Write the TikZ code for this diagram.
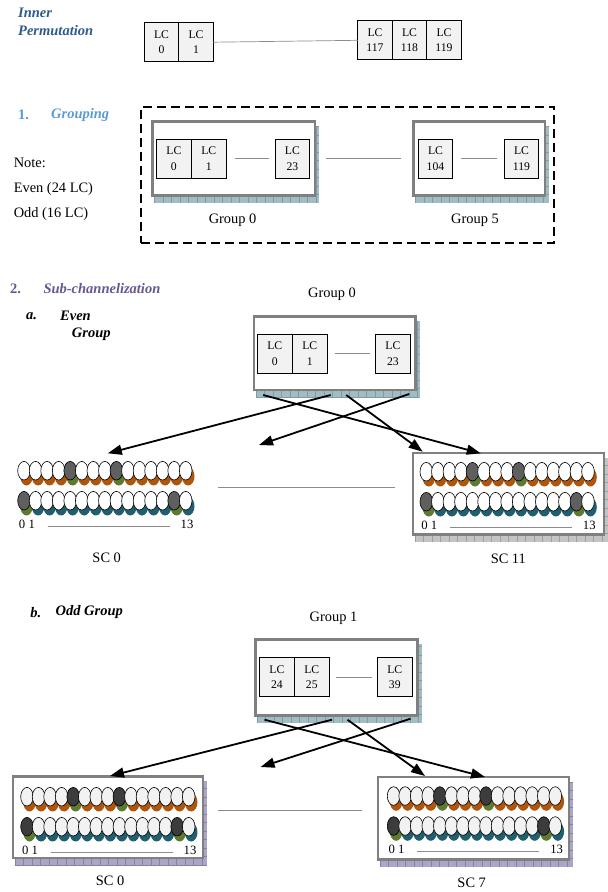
\documentclass[tikz,border=0pt]{standalone}
\usepackage{fontspec}
\setmainfont{Liberation Serif}
\usetikzlibrary{arrows.meta,calc,backgrounds}

\definecolor{headblue}{HTML}{2F5A8C}
\definecolor{lightblue}{HTML}{5B9BD5}
\definecolor{purplehead}{HTML}{66578F}
\definecolor{boxgray}{HTML}{808080}
\definecolor{lcfill}{HTML}{F2F2F2}
\definecolor{linegray}{HTML}{8C8C8C}
\definecolor{tealsh}{HTML}{A2BCC4}
\definecolor{teallines}{HTML}{7E9CA6}
\definecolor{graysh}{HTML}{C4C4C4}
\definecolor{graylines}{HTML}{9E9E9E}
\definecolor{lavsh}{HTML}{ABA5C6}
\definecolor{lavlines}{HTML}{8880A8}
\definecolor{rustsh}{HTML}{B0560C}
\definecolor{cyansh}{HTML}{215E6E}
\definecolor{olivesh}{HTML}{5E7A31}
\definecolor{darkA}{HTML}{5F5F5F}
\definecolor{darkB}{HTML}{3C3C3C}
\definecolor{lightB}{HTML}{F2F2F2}

% two rows of 15 sub-carrier ellipses with their coloured shadows and index labels
% #1 x of first centre, #2 y of first row, #3 dark fill, #4 light fill, #5 name prefix
\newcommand{\scrows}[5]{%
  \foreach \k in {0,...,14}{%
    \pgfmathsetmacro{\cx}{#1+11.55*\k}%
    \ifnum\k=4 \def\shc{olivesh}\else\ifnum\k=8 \def\shc{olivesh}\else\def\shc{rustsh}\fi\fi
    \fill[\shc] (\cx+2.5,#2+5.5) ellipse [x radius=6.3pt, y radius=9.3pt];
    \ifnum\k=0 \def\shc{olivesh}\else\ifnum\k=13 \def\shc{olivesh}\else\def\shc{cyansh}\fi\fi
    \fill[\shc] (\cx+2.5,#2+35.5) ellipse [x radius=6.3pt, y radius=9.3pt];
  }%
  \foreach \k in {0,...,14}{%
    \pgfmathsetmacro{\cx}{#1+11.55*\k}%
    \ifnum\k=4 \def\fc{#3}\else\ifnum\k=8 \def\fc{#3}\else\def\fc{#4}\fi\fi
    \filldraw[fill=\fc, draw=black, line width=0.6pt] (\cx,#2) ellipse [x radius=6.3pt, y radius=9.3pt];
  }%
  \foreach \k in {0,...,14}{%
    \pgfmathsetmacro{\cx}{#1+11.55*\k}%
    \ifnum\k=0 \def\fc{#3}\else\ifnum\k=13 \def\fc{#3}\else\def\fc{#4}\fi\fi
    \filldraw[fill=\fc, draw=black, line width=0.6pt] (\cx,#2+30) ellipse [x radius=6.3pt, y radius=9.3pt];
  }%
  \node[sclbl, anchor=west] (#5lo) at (#1-5.2,#2+53.5) {0 1};
  \node[sclbl] (#5hi) at (#1+163,#2+53.5) {13};
  \draw[gapline, shorten <=12.8pt, shorten >=10.6pt] ([yshift=-2pt]#5lo.east) -- ([yshift=-2pt]#5hi.west);
}

% offset hatched shadow behind a box node
\newcommand{\dropshadow}[2]{%
  \begin{scope}[on background layer]
    \path[#2] ($(#1.north west)+(3,6)$) rectangle ($(#1.south east)+(3,6)$);
  \end{scope}}

\tikzset{
  lc/.style={draw=black, line width=0.8pt, fill=lcfill, minimum width=34.5pt,
    minimum height=39pt, inner sep=0pt, outer sep=0pt, align=center,
    font=\fontsize{11.7}{15.5}\selectfont},
  grp/.style={draw=boxgray, line width=2.5pt, fill=white, inner sep=0pt},
  lbl/.style={font=\fontsize{14.4}{17}\selectfont, inner sep=0pt},
  sclbl/.style={font=\fontsize{12.7}{15}\selectfont, inner sep=0pt},
  head/.style={font=\fontsize{14.5}{17.4}\selectfont\bfseries\itshape, inner sep=0pt, anchor=west},
  numhead/.style={font=\fontsize{14.5}{17.4}\selectfont\bfseries, inner sep=0pt, anchor=west},
  gapline/.style={draw=linegray, line width=0.7pt},
  flow/.style={line width=1.8pt, -{Triangle[length=14pt,width=10pt]}},
  dashframe/.style={draw=black, line width=2.2pt, dash pattern=on 9pt off 5pt, inner sep=0pt},
  hatch/.style 2 args={fill=#1, path picture={
      \foreach \i in {0,8.5,...,400}
        \draw[#2, line width=0.35pt] ([xshift=\i pt]path picture bounding box.south west)
          -- ([xshift=\i pt]path picture bounding box.north west);
      \foreach \j in {0,8.5,...,120}
        \draw[#2, line width=0.35pt] ([yshift=\j pt]path picture bounding box.south west)
          -- ([yshift=\j pt]path picture bounding box.south east);
    }},
}

\begin{document}
\begin{tikzpicture}[x=1pt,y=-1pt]
\useasboundingbox (0,0) rectangle (608,892);
\begin{scope}[on background layer]
  \fill[white] (0,0) rectangle (608,892);
\end{scope}

% ---------- inner permutation ----------
\node[head, text=headblue, align=left] (title) at (18,22) {Inner\\Permutation};
\node[lc] (pa) at (161.5,42.2) {LC\\0};
\node[lc] (pb) at (196,42.2) {LC\\1};
\node[lc] (pc) at (375,40.3) {LC\\117};
\node[lc] (pd) at (409.5,40.3) {LC\\118};
\node[lc] (pe) at (444,40.3) {LC\\119};
\draw[gapline] (pb.east) -- (pc.west);

% ---------- grouping ----------
\node[numhead, text=lightblue] (n1) at (18,115) {1.};
\node[head, text=lightblue] (grouping) at (51,115) {Grouping};
\node[lbl, anchor=west] (note) at (13.6,163.3) {Note:};
\node[lbl, anchor=west] (evenn) at (13.6,189.3) {Even (24 LC)};
\node[lbl, anchor=west] (oddn) at (13.6,214) {Odd (16 LC)};
\node[dashframe, minimum width=413.5pt, minimum height=135.8pt] (frame) at (347.45,175) {};

\node[grp, minimum width=162.7pt, minimum height=74.2pt] (ga) at (233.8,158.35) {};
\dropshadow{ga}{hatch={tealsh}{teallines}}
\node[grp, minimum width=131.3pt, minimum height=74.2pt] (gb) at (479.1,158.35) {};
\dropshadow{gb}{hatch={tealsh}{teallines}}
\node[lc] (ga0) at (173.9,158.8) {LC\\0};
\node[lc] (ga1) at (208.8,158.8) {LC\\1};
\node[lc] (ga23) at (292.4,158.8) {LC\\23};
\node[lc] (gb104) at (435.5,158.8) {LC\\104};
\node[lc] (gb119) at (521.5,158.8) {LC\\119};
\draw[gapline, shorten <=8.6pt, shorten >=6.6pt] (ga1.east) -- (ga23.west);
\draw[gapline, shorten <=10pt, shorten >=11pt] (ga.east) -- (gb.west);
\draw[gapline, shorten <=8.5pt, shorten >=7.7pt] (gb104.east) -- (gb119.west);
\node[lbl] (galbl) at (232.6,220) {Group 0};
\node[lbl] (gblbl) at (475,220) {Group 5};

% ---------- sub-channelization ----------
\node[numhead, text=purplehead] (n2) at (10,289) {2.};
\node[head, text=purplehead] (subch) at (43.3,289) {Sub-channelization};

% even group
\node[head] (na) at (26,316) {a.};
\node[head] (evenh) at (60,316) {Even};
\node[head] (evenh2) at (71.7,334) {Group};
\node[lbl] (eglbl) at (332,294) {Group 0};
\node[grp, minimum width=161.5pt, minimum height=73.5pt] (eg) at (334.7,353) {};
\dropshadow{eg}{hatch={tealsh}{teallines}}
\node[lc] (eg0) at (274.8,353.8) {LC\\0};
\node[lc] (eg1) at (309.8,353.8) {LC\\1};
\node[lc] (eg23) at (392.9,353.8) {LC\\23};
\draw[gapline, shorten <=7.7pt, shorten >=6pt] (eg1.east) -- (eg23.west);

\node[grp, minimum width=190.8pt, minimum height=81.5pt] (sce11) at (508.35,493.7) {};
\dropshadow{sce11}{hatch={graysh}{graylines}}
\scrows{24}{470.7}{darkA}{white}{sca}
\scrows{426.3}{471.7}{darkA}{white}{scb}
\node[lbl] (sce0lbl) at (106.7,557.3) {SC 0};
\node[lbl] (sce11lbl) at (508.3,559) {SC 11};
\coordinate (emid) at (218,487);
\draw[gapline, shorten >=16.7pt] (emid) -- (emid -| sce11.west);

\coordinate (eA) at (107.8,453.3);
\coordinate (eB) at (259,445);
\coordinate (eC) at ($(sce11.north west)+(69,1.6)$);
\coordinate (eD) at ($(sce11.north west)+(11,0)$);
\draw[flow] ($(eg.south west)+(78,4)$) -- (eA);
\draw[flow] ($(eg.south west)+(156.5,3)$) -- (eB);
\draw[flow] ($(eg.south west)+(10.5,4)$) -- (eC);
\draw[flow] ($(eg.south west)+(93.5,4)$) -- (eD);

% odd group
\node[head] (nb) at (30.2,612.3) {b.};
\node[head] (oddh) at (55.4,612.3) {Odd Group};
\node[lbl] (oglbl) at (333.5,618.3) {Group 1};
\node[grp, minimum width=162.3pt, minimum height=75.9pt] (og) at (336.4,677.5) {};
\dropshadow{og}{hatch={tealsh}{teallines}}
\node[lc] (og24) at (276.9,677.2) {LC\\24};
\node[lc] (og25) at (311.8,677.2) {LC\\25};
\node[lc] (og39) at (394.8,677.2) {LC\\39};
\draw[gapline, shorten <=7pt, shorten >=5.8pt] (og25.east) -- (og39.west);

\node[grp, minimum width=190.1pt, minimum height=81.5pt] (sco0) at (108,817) {};
\dropshadow{sco0}{hatch={lavsh}{lavlines}}
\node[grp, minimum width=190.8pt, minimum height=82.5pt] (sco7) at (473.35,818.2) {};
\dropshadow{sco7}{hatch={lavsh}{lavlines}}
\scrows{27}{796.7}{darkB}{lightB}{scc}
\scrows{393.6}{796}{darkB}{lightB}{scd}
\node[lbl] (sco0lbl) at (110,880.7) {SC 0};
\node[lbl] (sco7lbl) at (471.7,882.3) {SC 7};
\draw[gapline, shorten <=13.7pt, shorten >=14.7pt] ([yshift=7pt]sco0.east) -- ([yshift=8.2pt]sco7.west);

\coordinate (oA) at ($(sco0.north west)+(98.3,1)$);
\coordinate (oB) at (260.6,767);
\coordinate (oC) at ($(sco7.north west)+(108.3,1.3)$);
\coordinate (oD) at ($(sco7.north west)+(48.3,0.3)$);
\draw[flow] ($(og.south west)+(78,3)$) -- (oA);
\draw[flow] ($(og.south west)+(156.5,2)$) -- (oB);
\draw[flow] ($(og.south west)+(10.5,3)$) -- (oC);
\draw[flow] ($(og.south west)+(93.5,3)$) -- (oD);
\end{tikzpicture}
\end{document}
